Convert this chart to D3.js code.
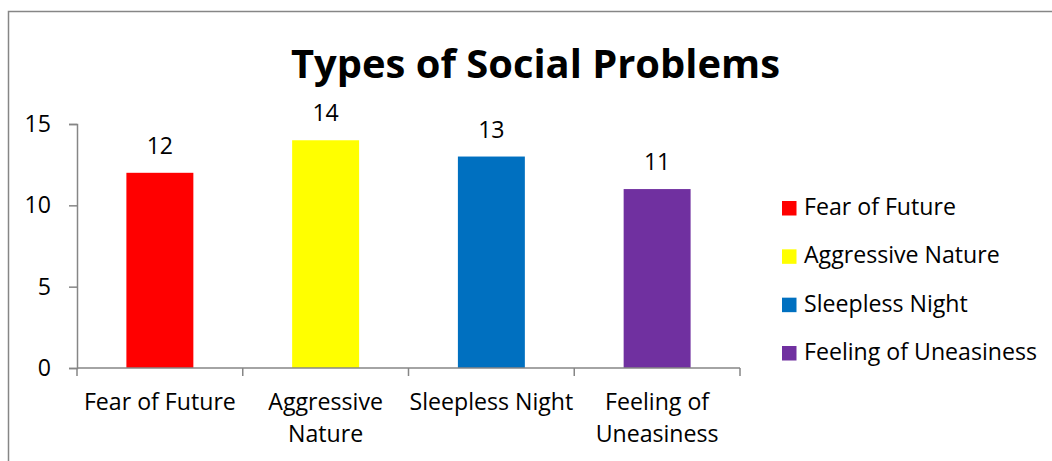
<!DOCTYPE html>
<html>
<head>
<meta charset="utf-8">
<script src="https://cdn.jsdelivr.net/npm/d3@7"></script>
<style>
  html, body { margin: 0; padding: 0; background: #fff; }
  svg { display: block; }
  text { font-family: "Open Sans", "Noto Sans", "DejaVu Sans", sans-serif; fill: #000; }
</style>
</head>
<body>
<svg id="chart" width="1052" height="461"></svg>
<script>
const categories = ["Fear of Future", "Aggressive Nature", "Sleepless Night", "Feeling of Uneasiness"];
const categoryLines = [["Fear of Future"], ["Aggressive", "Nature"], ["Sleepless Night"], ["Feeling of", "Uneasiness"]];
const values = [12, 14, 13, 11];
const colors = ["#FF0000", "#FFFF00", "#0070C0", "#7030A0"];
const yTicks = [0, 5, 10, 15];
const titleText = "Types of Social Problems";

const svg = d3.select("#chart");
const W = 1052, H = 461;
const axisColor = "#868686";

// Outer border (extends beyond the visible area on right and bottom)
svg.append("rect")
  .attr("x", 8.5).attr("y", 11.5)
  .attr("width", W + 20).attr("height", H + 20)
  .attr("fill", "none").attr("stroke", axisColor).attr("stroke-width", 1.5);

const plot = { left: 77, right: 740, top: 124, bottom: 368 };

const x = d3.scaleBand().domain(categories).range([plot.left, plot.right]).padding(0);
const y = d3.scaleLinear().domain([0, 15]).range([plot.bottom, plot.top]);
const barW = x.bandwidth() * 0.404;

function fitFont(sel, targetWidth, startSize) {
  sel.style("font-size", startSize + "px");
  const w = sel.node().getComputedTextLength();
  const size = startSize * targetWidth / w;
  sel.style("font-size", size + "px");
  return size;
}

// Title
const title = svg.append("text")
  .attr("x", 535.5).attr("y", 78)
  .attr("text-anchor", "middle")
  .style("font-weight", "bold")
  .text(titleText);
const titleSize = fitFont(title, 489, 40);

// Determine label font size from "Fear of Future" width
const probe = svg.append("text").text("Fear of Future");
const labelSize = fitFont(probe, 152, 20);
probe.remove();

// Bars
svg.append("g").selectAll("rect")
  .data(values)
  .join("rect")
  .attr("x", (d, i) => x(categories[i]) + x.bandwidth() / 2 - barW / 2)
  .attr("y", d => y(d))
  .attr("width", barW)
  .attr("height", d => y(0) - y(d))
  .attr("fill", (d, i) => colors[i]);

// Value labels
svg.append("g").selectAll("text")
  .data(values)
  .join("text")
  .attr("x", (d, i) => x(categories[i]) + x.bandwidth() / 2)
  .attr("y", d => y(d) - 19)
  .attr("text-anchor", "middle")
  .style("font-size", labelSize + "px")
  .text(d => d);

// Y axis
const yAxis = d3.axisLeft(y).tickValues(yTicks).tickSize(8).tickPadding(18);
const gy = svg.append("g").attr("transform", `translate(${plot.left},0)`).call(yAxis);
gy.select(".domain").attr("stroke", axisColor).attr("stroke-width", 1.5);
gy.selectAll(".tick line").attr("stroke", axisColor).attr("stroke-width", 1.5);
gy.selectAll(".tick text")
  .style("font-size", labelSize + "px")
  .style("font-family", "'Open Sans', 'Noto Sans', sans-serif")
  .attr("fill", "#000");

// X axis
const xAxis = d3.axisBottom(x).tickSize(0).tickFormat("");
const gx = svg.append("g").attr("transform", `translate(0,${plot.bottom})`).call(xAxis);
gx.select(".domain").attr("stroke", axisColor).attr("stroke-width", 1.5)
  .attr("d", `M${plot.left},0H${plot.right}`);
gx.selectAll(".tick").remove();
// Category boundary ticks
const boundaries = categories.map(c => x(c)).concat([x(categories[categories.length - 1]) + x.bandwidth()]);
gx.selectAll("line.bnd")
  .data(boundaries)
  .join("line")
  .attr("class", "bnd")
  .attr("x1", d => d).attr("x2", d => d)
  .attr("y1", 0).attr("y2", 8)
  .attr("stroke", axisColor).attr("stroke-width", 1.5);

// Category labels
const catG = svg.append("g");
categoryLines.forEach((lines, i) => {
  const t = catG.append("text")
    .attr("x", x(categories[i]) + x.bandwidth() / 2)
    .attr("y", 410)
    .attr("text-anchor", "middle")
    .style("font-size", labelSize + "px");
  lines.forEach((ln, j) => {
    t.append("tspan")
      .attr("x", x(categories[i]) + x.bandwidth() / 2)
      .attr("y", 410 + j * 32)
      .text(ln);
  });
});

// Legend
const legend = svg.append("g");
const legY = d3.scalePoint().domain(categories).range([208, 353]);
categories.forEach((c, i) => {
  legend.append("rect")
    .attr("x", 782).attr("y", legY(c) - 7)
    .attr("width", 14.5).attr("height", 14.5)
    .attr("fill", colors[i]);
  legend.append("text")
    .attr("x", 804).attr("y", legY(c) + 7)
    .style("font-size", labelSize + "px")
    .text(c);
});
</script>
</body>
</html>
